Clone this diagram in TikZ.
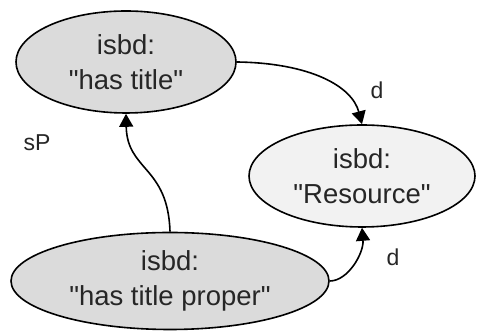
\documentclass[tikz,border=0pt]{standalone}
\usepackage{fontspec}
\setmainfont{Liberation Sans}[Ligatures=TeXOff]
\usetikzlibrary{shapes.geometric,arrows.meta}
\begin{document}
\begin{tikzpicture}[x=1pt,y=1pt,
  concept/.style={ellipse, draw=black, line width=1.6pt, inner sep=0pt,
    align=center, text=black!85, font=\fontsize{27.5}{35}\selectfont},
  edge/.style={line width=1.6pt, -{Triangle[width=14pt,length=13pt]}},
  lbl/.style={font=\fontsize{23}{26}\selectfont, text=black!85, inner sep=0pt}]
  \useasboundingbox (0,0) rectangle (477,331);
  \fill[white] (0,0) rectangle (477,331);

  \node[concept, fill=gray!28, minimum width=220pt, minimum height=102pt]
    (title) at (126,269) {isbd:\\"has title"};
  \node[concept, fill=gray!10, minimum width=226pt, minimum height=102pt]
    (res) at (362,155) {isbd:\\"Resource"};
  \node[concept, fill=gray!28, minimum width=318pt, minimum height=97pt]
    (proper) at (170,50) {isbd:\\"has title proper"};

  % subproperty link
  \draw[edge] (proper.north) .. controls (168,165) and (127,160) .. (title.south);
  % domain links
  \draw[edge] (title.east) .. controls (310,268) and (352,245) .. (res.north);
  \draw[edge] (proper.east) .. controls (348,50) and (364,78) .. (res.south);

  \node[lbl] (sp) at (37,188) {sP};
  \node[lbl] (d1) at (377,241) {d};
  \node[lbl] (d2) at (393,74) {d};
\end{tikzpicture}
\end{document}
